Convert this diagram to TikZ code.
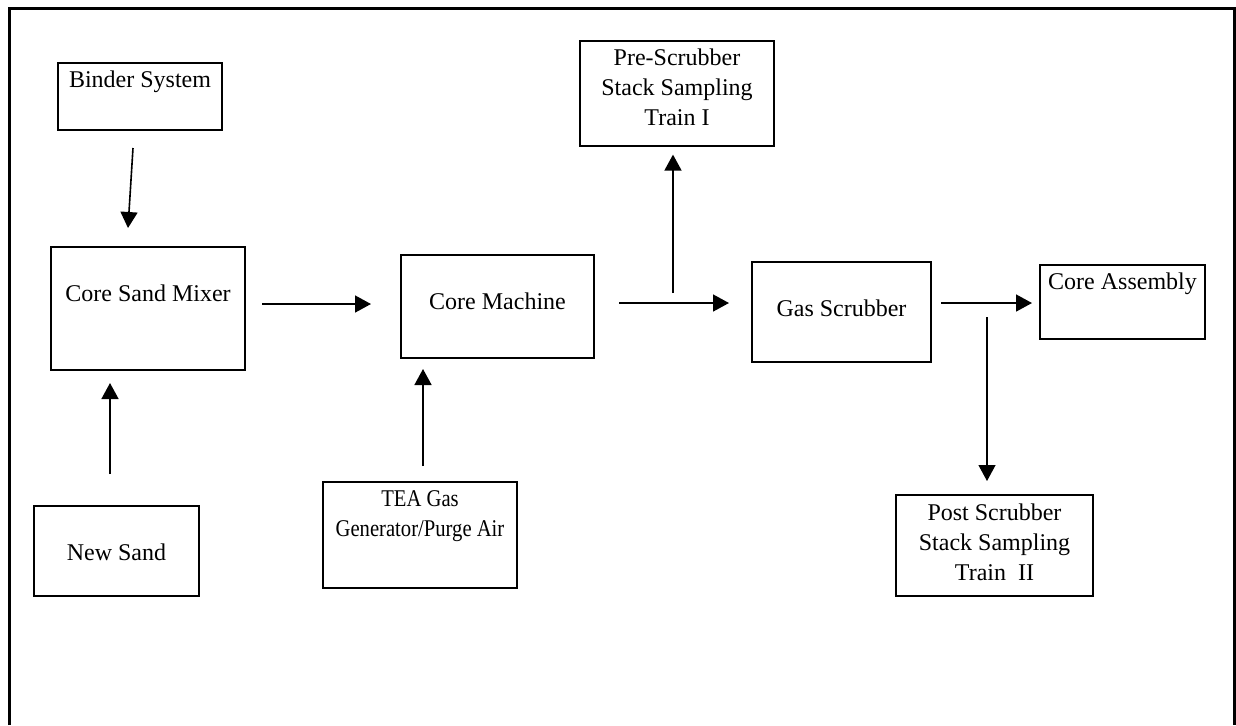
\documentclass[tikz,border=0pt]{standalone}
\usepackage{fontspec}
\setmainfont{Liberation Serif}
\newfontfamily\narrowfont[FakeStretch=0.86]{Liberation Serif}
\usepackage{tikz}
\usetikzlibrary{arrows.meta}

\tikzset{
  box/.style={draw, line width=1pt, inner sep=0pt, align=center,
    text height=12pt, font=\fontsize{12}{15}\selectfont},
  lowtext/.style={text height=27pt},
  flow/.style={line width=0.8pt, -{Triangle[width=8.5pt,length=8pt]}}
}

\begin{document}
\begin{tikzpicture}[x=0.5pt, y=-0.5pt]
  \useasboundingbox (0,0) rectangle (1236,725);
  \draw[line width=1.5pt] (9.5,725) -- (9.5,8) -- (1234,8) -- (1234,725);

  \node[box, minimum width=82pt, text depth=21.5pt] (binder) at (140,96.5) {Binder System};
  \node[box, lowtext, minimum width=97pt, text depth=34.5pt] (mixer) at (148,308.5) {Core Sand Mixer};
  \node[box, lowtext, minimum width=96.5pt, text depth=24.5pt] (machine) at (497.5,306.5) {Core Machine};
  \node[box, line width=0.6pt, minimum width=97pt, text height=42pt, text depth=10.5pt] (prescrub) at (677,93.5)
    {Pre-Scrubber\\Stack Sampling\\Train I};
  \node[box, lowtext, minimum width=89.5pt, text depth=23pt] (gas) at (841.5,312) {Gas Scrubber};
  \node[box, minimum width=82.5pt, text depth=25pt] (assembly) at (1122.5,302) {Core Assembly};
  \node[box, minimum width=98.5pt, text height=42.5pt, text depth=8pt] (postscrub) at (994.5,545.5)
    {Post Scrubber\\Stack Sampling\\Train~~II};
  \node[box, lowtext, minimum width=82.5pt, text depth=18pt] (newsand) at (116.5,551) {New Sand};
  \node[box, minimum width=97pt, text height=27pt, text depth=26pt,
    font=\fontsize{12}{15}\narrowfont] (tea) at (420,535)
    {TEA Gas\\Generator/Purge Air};

  \coordinate (tap1) at (673,293);
  \coordinate (tap2) at (987,317);

  \draw[flow] ([shift={(-7,17)}]binder.south) -- ([shift={(-20,-18)}]mixer.north);
  \draw[flow] ([shift={(-6.5,-31)}]newsand.north) -- ([shift={(-38,12)}]mixer.south);
  \draw[flow] ([shift={(16,-4.5)}]mixer.east) -- ([shift={(-29,-2.5)}]machine.west);
  \draw[flow] ([shift={(3,-15)}]tea.north) -- ([shift={(-74.5,10)}]machine.south);
  \draw[flow] ([shift={(24,-3.5)}]machine.east) -- ([shift={(-22,-9)}]gas.west);
  \draw[flow] (tap1) -- ([shift={(-4,8)}]prescrub.south);
  \draw[flow] ([shift={(9,-9)}]gas.east) -- ([shift={(-7,1)}]assembly.west);
  \draw[flow, line width=0.6pt] (tap2) -- ([shift={(-7.5,-13)}]postscrub.north);
\end{tikzpicture}
\end{document}
